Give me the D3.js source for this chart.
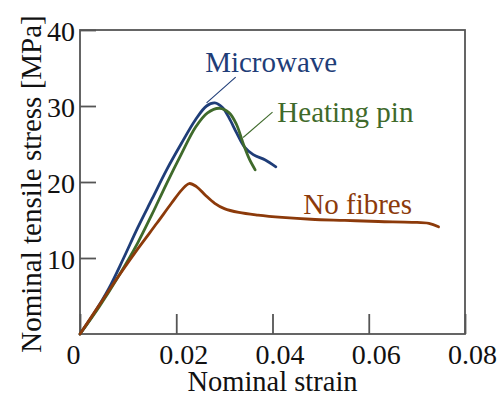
<!DOCTYPE html>
<html>
<head>
<meta charset="utf-8">
<script src="https://cdn.jsdelivr.net/npm/d3@7"></script>
<style>
	body { margin: 0; background: #fff; }
</style>
</head>
<body>
<div id="chart"></div>
<script>
// [strain, stress MPa]
let microwave = [[0,0],[0.003,2.8],[0.006,6.0],[0.009,9.9],[0.012,14.0],[0.015,17.8],[0.018,21.6],[0.021,25.0],[0.024,28.2],[0.0263,30.0],[0.028,30.4],[0.0296,29.8],[0.031,28.4],[0.0326,26.4],[0.0342,24.6],[0.036,23.6],[0.0385,22.9],[0.0407,22.0]]
let heatingPin = [[0,0],[0.004,3.6],[0.008,7.6],[0.012,12.0],[0.015,15.8],[0.018,19.8],[0.021,23.6],[0.024,27.2],[0.0265,29.1],[0.029,29.7],[0.031,29.1],[0.0325,27.6],[0.034,24.9],[0.0352,23.0],[0.0364,21.6]]
let noFibres = [[0,0],[0.004,3.8],[0.008,7.6],[0.012,11.2],[0.016,14.6],[0.019,17.2],[0.0212,19.0],[0.0227,19.8],[0.0242,19.4],[0.026,18.3],[0.028,17.2],[0.030,16.5],[0.033,16.0],[0.037,15.65],[0.042,15.35],[0.048,15.1],[0.055,14.95],[0.062,14.8],[0.069,14.7],[0.0725,14.55],[0.0745,14.1]]

let xTicks = [0, 0.02, 0.04, 0.06, 0.08]
let yTicks = [10, 20, 30, 40]
let xTickLabels = ['0', '0.02', '0.04', '0.06', '0.08']

let series = [
	{name: 'Microwave', color: '#1f3d78', values: microwave, label: [0.026, 34.5], leader: [[0.0263, 30.4], [0.03235, 33.8]]},
	{name: 'Heating pin', color: '#3f6a2b', values: heatingPin, label: [0.041, 27.95], leader: [[0.0339, 25.85], [0.0400, 29.2]]},
	{name: 'No fibres', color: '#8c3a0a', values: noFibres, label: [0.0464, 15.8], leader: null}
]

let serif = '"Liberation Serif", "Times New Roman", serif'
let width = 499
let height = 398
let plotLeft = 80, plotRight = 465, plotTop = 30, plotBottom = 334

let xScale = d3.scaleLinear().domain([0, 0.08]).range([plotLeft, plotRight])
let yScale = d3.scaleLinear().domain([0, 40]).range([plotBottom, plotTop])

const svg = d3.select('#chart')
	.append('svg')
	.attr('width', width)
	.attr('height', height)

svg.append('rect').attr('width', width).attr('height', height).attr('fill', 'white')

// frame
svg.append('rect')
	.attr('x', plotLeft).attr('y', plotTop)
	.attr('width', plotRight - plotLeft).attr('height', plotBottom - plotTop)
	.attr('fill', 'none').attr('stroke', '#555').attr('stroke-width', 1.8)

let xG = svg.append('g')
	.attr('transform', `translate(0,${plotBottom})`)
	.call(d3.axisBottom(xScale).tickValues(xTicks).tickSize(-20).tickPadding(10)
		.tickFormat((d, i) => xTickLabels[i]))
xG.attr('font-family', serif)
xG.select('.domain').remove()
xG.selectAll('line').attr('stroke', '#555').attr('stroke-width', 1.8)
xG.selectAll('text').attr('font-size', 28).attr('fill', '#111')
	.attr('dx', d => d == 0 ? -7 : 7)

let yG = svg.append('g')
	.attr('transform', `translate(${plotLeft},0)`)
	.call(d3.axisLeft(yScale).tickValues(yTicks).tickSize(-16).tickPadding(5))
yG.attr('font-family', serif)
yG.select('.domain').remove()
yG.selectAll('line').attr('stroke', '#555').attr('stroke-width', 1.8)
yG.selectAll('text').attr('font-size', 28).attr('fill', '#111').attr('dy', '0.38em')

let line = d3.line()
	.x(d => xScale(d[0]))
	.y(d => yScale(d[1]))
	.curve(d3.curveCatmullRom.alpha(0.5))

series.forEach(function(s){
	svg.append('path')
		.datum(s.values)
		.attr('d', line)
		.attr('fill', 'none')
		.attr('stroke', s.color)
		.attr('stroke-width', 2.8)
		.attr('stroke-linecap', 'round')
		.attr('stroke-linejoin', 'round')

	if(s.leader)
		svg.append('line')
			.attr('x1', xScale(s.leader[0][0])).attr('y1', yScale(s.leader[0][1]))
			.attr('x2', xScale(s.leader[1][0])).attr('y2', yScale(s.leader[1][1]))
			.attr('stroke', s.color).attr('stroke-width', 1.1)

	svg.append('text')
		.attr('x', xScale(s.label[0]))
		.attr('y', yScale(s.label[1]))
		.attr('font-family', serif)
		.attr('font-size', 29)
		.attr('fill', s.color)
		.text(s.name)
})

svg.append('text')
	.attr('x', (plotLeft + plotRight) / 2)
	.attr('y', 391)
	.attr('text-anchor', 'middle')
	.attr('font-family', serif)
	.attr('font-size', 28.5)
	.attr('fill', '#111')
	.text('Nominal strain')

svg.append('text')
	.attr('transform', `translate(41,${(plotTop + plotBottom) / 2 + 2}) rotate(-90)`)
	.attr('text-anchor', 'middle')
	.attr('font-family', serif)
	.attr('font-size', 29)
	.attr('fill', '#111')
	.text('Nominal tensile stress [MPa]')
</script>
</body>
</html>
